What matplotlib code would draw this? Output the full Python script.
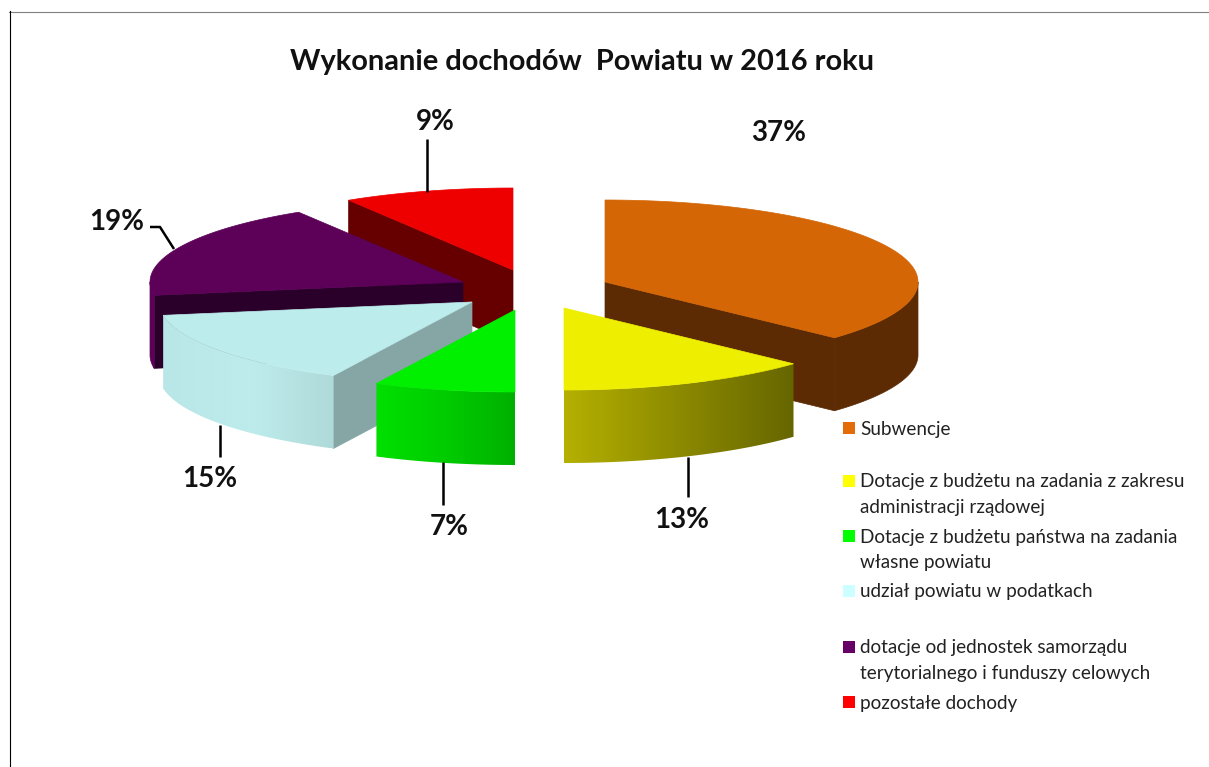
import numpy as np
import matplotlib
matplotlib.use("Agg")
import matplotlib.pyplot as plt
from matplotlib.colors import LinearSegmentedColormap
from matplotlib.patches import Polygon, Rectangle

title = "Wykonanie dochodów  Powiatu w 2016 roku"
labels = [
    "Subwencje",
    "Dotacje z budżetu na zadania z zakresu\nadministracji rządowej",
    "Dotacje z budżetu państwa na zadania\nwłasne powiatu",
    "udział powiatu w podatkach",
    "dotacje od jednostek samorządu\nterytorialnego i funduszy celowych",
    "pozostałe dochody",
]
# shares, they round to the printed labels
values = [36.9, 13.1, 7.3, 15.1, 18.8, 8.8]

# styling per slice
top_colors = ["#D46606", "#EEEE00", "#00F000", "#BDECEC", "#5C0058", "#EE0000"]
cut_colors = ["#5C2A03", "#666600", "#00A000", "#86A6A6", "#2A002A", "#660000"]
side_colors = [
    ["#5C2A03", "#5C2A03"],
    ["#B5B000", "#8C8A00", "#666600"],
    ["#00E000", "#00CC00", "#00B000"],
    ["#B9E6E6", "#BEECEC", "#B0DADA"],
    ["#5C0058", "#5C0058"],
    ["#660000", "#660000"],
]
legend_colors = ["#E36C09", "#FFFF00", "#00FF00", "#CCFFFF", "#660066", "#FF0000"]
explode = [(117, -8), (76, 18), (27, 20), (-16, 12), (-25, -8), (25, -20)]
draw_order = [5, 4, 0, 3, 2, 1]

center = (488, 290)
rx, ry, depth = 313, 82, 73

# label position, leader line
pct_pos = [(779, 133), (682, 520), (449, 527), (210, 479), (117, 222), (435, 122)]
leaders = [
    None,
    [(688, 457), (688, 497)],
    [(443, 462), (443, 505)],
    [(220, 425), (220, 457)],
    [(150, 227), (160, 227), (174, 249)],
    [(427, 139), (427, 192)],
]
legend_y = [428, 481, 536, 591, 647, 702]
line_gap = 25.5


def arc(apex, a0, a1):
    t = np.radians(np.linspace(a0, a1, 120))
    return np.column_stack([apex[0] + rx * np.sin(t), apex[1] - ry * np.cos(t)])


def wall(ax, points, colors, z):
    poly = np.vstack([points, points[::-1] + [0, depth]])
    if len(set(colors)) == 1:
        ax.add_patch(Polygon(poly, fc=colors[0], ec=colors[0], lw=0.5, zorder=z))
        return
    cmap = LinearSegmentedColormap.from_list("side", colors)
    grad = np.linspace(0, 1, 256).reshape(1, -1)
    im = ax.imshow(grad, cmap=cmap, aspect="auto", zorder=z, interpolation="bilinear",
                   extent=(poly[:, 0].min(), poly[:, 0].max(), poly[:, 1].max(), poly[:, 1].min()))
    clip = Polygon(poly, transform=ax.transData)
    im.set_clip_path(clip)


fig = plt.figure(figsize=(12.09, 7.67), dpi=100)
ax = fig.add_axes([0, 0, 1, 1])
plt.rcParams["font.family"] = ["Lato", "DejaVu Sans"]

edges = np.cumsum([0] + values) / sum(values) * 360

z = 1
for i in draw_order:
    a0, a1 = edges[i], edges[i + 1]
    apex = (center[0] + explode[i][0], center[1] + explode[i][1])
    rim = arc(apex, a0, a1)

    # cut faces that look towards the viewer
    for ang, on_show in ((a0, 180 < a0 < 360), (a1, 0 < a1 < 180)):
        if on_show:
            edge = arc(apex, ang, ang)[0]
            face = np.array([apex, edge])
            wall(ax, face, [cut_colors[i]], z)
    # outer wall, front half only
    lo, hi = max(a0, 90), min(a1, 270)
    if lo < hi:
        wall(ax, arc(apex, lo, hi), side_colors[i], z)
    ax.add_patch(Polygon(np.vstack([apex, rim]), fc=top_colors[i], ec=top_colors[i], lw=0.5, zorder=z + 0.5))
    z += 1

ax.text(582, 62, title, ha="center", va="center", fontsize=20.9, fontweight="bold", color="#111111", zorder=20)

for i, v in enumerate(values):
    ax.text(pct_pos[i][0], pct_pos[i][1], f"{v:.0f}%", ha="center", va="center", fontsize=20,
            fontweight="bold", color="#111111", zorder=20)
    if leaders[i]:
        xs, ys = zip(*leaders[i])
        ax.plot(xs, ys, color="black", lw=1.8, zorder=20, solid_capstyle="butt")

for i, lab in enumerate(labels):
    ax.add_patch(Rectangle((843, legend_y[i] - 6), 12, 12, fc=legend_colors[i], ec="none", zorder=20))
    for j, line in enumerate(lab.split("\n")):
        ax.text(860, legend_y[i] + 1 + j * line_gap, line, ha="left", va="center", fontsize=13.6,
                color="#222222", zorder=20)

# chart frame
ax.plot([9, 1209], [11.5, 11.5], color="#808080", lw=0.8, zorder=20)
ax.plot([9.5, 9.5], [11, 767], color="black", lw=0.8, zorder=20)

ax.set_xlim(0, 1209)
ax.set_ylim(767, 0)
ax.axis("off")
fig.savefig("out.png", dpi=100)
